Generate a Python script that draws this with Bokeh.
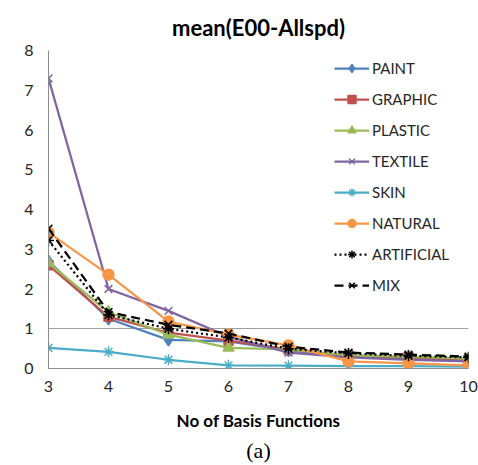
from bokeh.plotting import figure
from bokeh.models import Legend, LegendItem, Title, FixedTicker, Range1d
from bokeh.embed import file_html
from bokeh.resources import INLINE

x_vals = [3, 4, 5, 6, 7, 8, 9, 10]
paint = [2.7, 1.25, 0.72, 0.68, 0.45, 0.3, 0.25, 0.2]
graphic = [2.6, 1.3, 0.9, 0.7, 0.48, 0.32, 0.28, 0.22]
plastic = [2.65, 1.42, 0.85, 0.52, 0.48, 0.33, 0.3, 0.25]
textile = [7.3, 2.0, 1.45, 0.8, 0.4, 0.28, 0.22, 0.18]
skin = [0.52, 0.42, 0.22, 0.08, 0.07, 0.06, 0.06, 0.05]
natural = [3.42, 2.36, 1.18, 0.85, 0.58, 0.18, 0.13, 0.08]
artificial = [3.22, 1.35, 1.0, 0.78, 0.5, 0.38, 0.32, 0.28]
mix = [3.52, 1.42, 1.1, 0.88, 0.55, 0.4, 0.35, 0.3]

series_names = ["PAINT", "GRAPHIC", "PLASTIC", "TEXTILE", "SKIN", "NATURAL", "ARTIFICIAL", "MIX"]
series_values = [paint, graphic, plastic, textile, skin, natural, artificial, mix]
y_ticks = [0, 1, 2, 3, 4, 5, 6, 7, 8]
title_text = "mean(E00-Allspd)"
x_title = "No of Basis Functions"
caption = "(a)"

styles = [
    dict(color="#4F81BD", marker="diamond", size=12, dash="solid"),
    dict(color="#C0504D", marker="square", size=9, dash="solid"),
    dict(color="#9BBB59", marker="triangle", size=11, dash="solid"),
    dict(color="#8064A2", marker="x", size=11, dash="solid"),
    dict(color="#4BACC6", marker="asterisk", size=11, dash="solid"),
    dict(color="#F79646", marker="circle", size=11, dash="solid"),
    dict(color="#000000", marker="asterisk", size=11, dash="2 3"),
    dict(color="#000000", marker="x", size=11, dash="9 5"),
]

FONT = "Lato"
TXT = "#262626"

p = figure(width=478, height=465, output_backend="svg", toolbar_location=None,
           x_range=Range1d(3, 10), y_range=Range1d(0, 8),
           frame_width=420, frame_height=318,
           min_border_left=48, min_border_right=10, min_border_top=50, min_border_bottom=97)
p.outline_line_color = None
p.background_fill_color = "white"
p.border_fill_color = "white"

p.xgrid.visible = False
p.ygrid.ticker = FixedTicker(ticks=[1])
p.ygrid.grid_line_color = "#A0A0A0"
p.ygrid.grid_line_width = 1

p.xaxis.ticker = FixedTicker(ticks=x_vals)
p.yaxis.ticker = FixedTicker(ticks=y_ticks)
for ax in (p.xaxis, p.yaxis):
    ax.axis_line_color = "#8C8C8C"
    ax.major_tick_line_color = None
    ax.minor_tick_line_color = None
    ax.major_tick_out = 0
    ax.major_tick_in = 0
    ax.major_label_text_font = FONT
    ax.major_label_text_font_size = "16px"
    ax.major_label_text_color = TXT
p.xaxis.major_label_standoff = 12
p.yaxis.major_label_standoff = 15
p.xaxis.axis_label = x_title
p.xaxis.axis_label_text_font = FONT
p.xaxis.axis_label_text_font_size = "17px"
p.xaxis.axis_label_text_font_style = "bold"
p.xaxis.axis_label_text_color = "#000000"
p.xaxis.axis_label_standoff = 15

items = []
for name, vals, st in zip(series_names, series_values, styles):
    lr = p.line(x_vals, vals, line_color=st["color"], line_width=2.25, line_dash=st["dash"])
    mr = p.scatter(x_vals, vals, marker=st["marker"], size=st["size"],
                   fill_color=st["color"], line_color=st["color"], line_width=1.5)
    items.append(LegendItem(label=name, renderers=[lr, mr]))

legend = Legend(items=items, location=(286, 73), padding=0, margin=0,
                glyph_width=35, glyph_height=20, label_height=20, spacing=11,
                label_standoff=3, border_line_color=None, background_fill_alpha=0,
                label_text_font=FONT, label_text_font_size="15px", label_text_color=TXT)
p.add_layout(legend)

p.add_layout(Title(text=title_text, align="center", vertical_align="top", text_font=FONT,
                   text_font_size="22px", text_font_style="bold", text_color="#000000",
                   standoff=16), "above")
p.add_layout(Title(text=caption, align="center", text_font="Liberation Serif",
                   text_font_size="22px", text_font_style="normal", text_color="#000000",
                   standoff=4), "below")

open("out.html", "w").write(file_html(p, INLINE))
